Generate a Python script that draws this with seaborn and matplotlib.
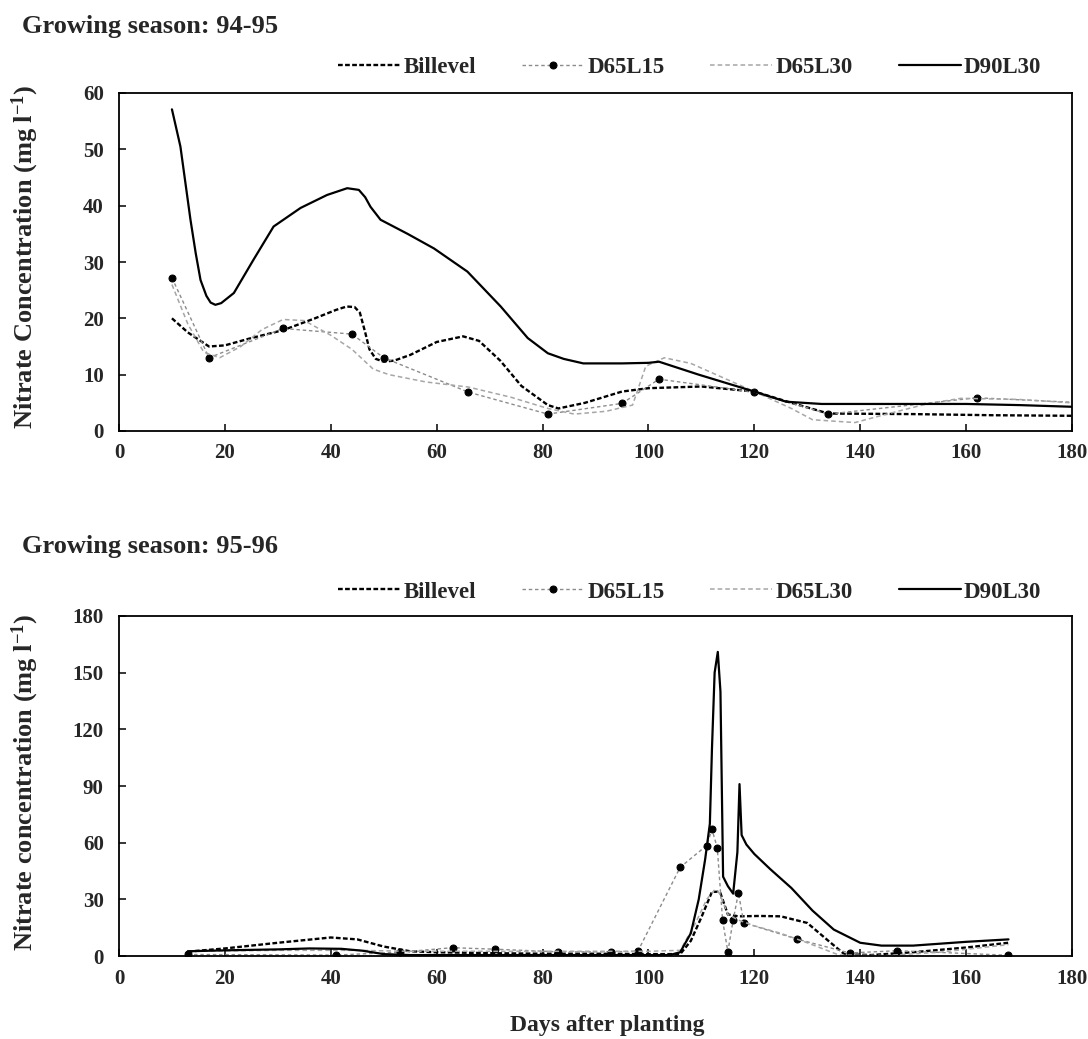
import numpy as np
import pandas as pd
import matplotlib
matplotlib.use("Agg")
import matplotlib.pyplot as plt
import seaborn as sns

# ---------------- Growing season 94-95 ----------------
s1_billevel_day = [10, 13, 17, 20, 25, 31, 37, 41, 43, 44.5, 45.5, 46.5, 47.3, 48.5, 50, 52, 55, 60, 65,
                   68, 72, 76, 81, 83, 88, 95, 100, 110, 120, 127, 134, 150, 165, 180]
s1_billevel_val = [20.0, 17.5, 15.0, 15.2, 16.5, 17.9, 20.0, 21.5, 22.1, 22.0, 21.0, 17.5, 14.5, 12.8,
                   12.3, 12.5, 13.5, 15.8, 16.8, 16.0, 12.5, 8.0, 4.6, 4.0, 5.0, 7.0, 7.6, 7.9, 7.0, 5.0,
                   3.1, 3.0, 2.8, 2.7]

s1_d65l15_day = [10, 17, 31, 44, 50, 66, 81, 95, 102, 120, 134, 162, 180]
s1_d65l15_val = [27.2, 13.0, 18.2, 17.2, 13.0, 6.9, 3.0, 4.9, 9.2, 6.9, 3.0, 5.9, 5.1]

s1_d65l30_day = [10, 13, 16, 19, 23, 27, 31, 35, 40, 44, 48, 51, 58, 66, 74, 81, 86, 92, 97, 99.5,
                 103, 108, 114, 120, 127, 131, 139, 145, 153, 159, 170, 180]
s1_d65l30_val = [26.0, 19.0, 14.0, 13.0, 15.0, 18.0, 19.8, 19.6, 17.0, 14.5, 11.0, 10.0, 8.7, 7.8, 6.0, 4.0,
                 3.0, 3.5, 4.6, 11.5, 13.0, 12.0, 9.5, 7.0, 4.0, 2.0, 1.5, 3.0, 4.9, 5.8, 5.6, 5.0]

s1_d90l30_day = [10, 11.6, 13.5, 14.5, 15.4, 16.5, 17.3, 18.2, 19.3, 21.7, 25.4, 29.2, 34.3, 39.3, 43.1,
                 45.3, 46.5, 47.5, 49.4, 54.5, 59.5, 65.8, 72.1, 77.2, 81, 84, 87.7, 95, 100, 102, 109.5,
                 120, 126, 132.7, 140, 160, 170, 180]
s1_d90l30_val = [57.1, 50.5, 37.5, 31.5, 26.8, 24.0, 22.8, 22.4, 22.7, 24.5, 30.4, 36.3, 39.6, 41.9, 43.1,
                 42.8, 41.5, 39.8, 37.5, 35.0, 32.4, 28.3, 22.1, 16.5, 13.8, 12.8, 12.0, 12.0, 12.1, 12.3,
                 10.0, 7.0, 5.2, 4.8, 4.8, 4.8, 4.6, 4.3]

# ---------------- Growing season 95-96 ----------------
s2_billevel_day = [13, 20, 30, 40, 45, 50, 55, 60, 70, 80, 90, 100, 106, 108, 110, 112, 113.5, 115, 117,
                   121, 125, 130, 134, 137, 142, 150, 160, 168]
s2_billevel_val = [2.3, 4.0, 7.0, 9.8, 8.8, 5.0, 2.5, 2.0, 1.5, 1.2, 1.2, 1.0, 1.0, 8.0, 20.5, 34.0, 34.0,
                   22.0, 21.0, 21.2, 21.0, 17.5, 8.0, 1.0, 0.5, 2.0, 4.5, 7.0]

s2_d65l15_day = [13, 41, 53, 63, 71, 83, 93, 98, 106, 111, 112, 113, 114, 115, 116, 117, 118, 128, 138,
                 147, 168]
s2_d65l15_val = [0.8, 0.5, 2.0, 4.4, 3.6, 2.2, 2.2, 2.5, 47.0, 58.5, 67.0, 57.3, 19.0, 2.3, 19.0, 33.5,
                 17.6, 9.0, 1.6, 2.8, 0.4]

s2_d65l30_day = [13, 30, 45, 55, 70, 85, 100, 106, 109, 111, 112.5, 113.5, 115, 117, 120, 125, 130, 136,
                 145, 155, 168]
s2_d65l30_val = [2.5, 3.0, 3.0, 2.5, 2.5, 2.5, 2.5, 3.0, 18.0, 30.0, 35.0, 33.0, 22.0, 19.0, 16.0, 12.0,
                 7.0, 0.5, 0.3, 2.0, 6.0]

s2_d90l30_day = [13, 20, 30, 36, 42, 46, 50, 55, 70, 90, 104, 106, 108, 109.5, 110.7, 111.6, 112.0, 112.5,
                 113.1, 113.6, 114.1, 115, 116, 116.8, 117.2, 117.6, 118.5, 120, 123, 127, 131, 135, 140,
                 144, 150, 160, 168]
s2_d90l30_val = [2.5, 3.0, 3.5, 4.0, 3.8, 2.8, 1.0, 0.5, 0.5, 0.5, 0.5, 2.0, 12.0, 30.0, 51.0, 70.0, 110.0,
                 150.0, 161.0, 140.0, 42.0, 37.0, 33.0, 55.0, 91.0, 64.0, 59.0, 54.0, 46.0, 36.0, 24.0,
                 14.0, 7.0, 5.5, 5.5, 7.5, 8.8]

series_names = ["Billevel", "D65L15", "D65L30", "D90L30"]
season_titles = ["Growing season: 94-95", "Growing season: 95-96"]
y_labels = ["Nitrate Concentration (mg l$^{-1}$)", "Nitrate concentration (mg l$^{-1}$)"]
x_label = "Days after planting"

sns.set_style("ticks")
plt.rcParams["font.family"] = ["Liberation Serif", "DejaVu Serif"]
plt.rcParams["font.weight"] = "bold"
plt.rcParams["mathtext.fontset"] = "custom"
plt.rcParams["mathtext.rm"] = "Liberation Serif:bold"
plt.rcParams["mathtext.bf"] = "Liberation Serif:bold"
plt.rcParams["mathtext.default"] = "rm"

styles = {
    "Billevel": dict(color="black", linewidth=1.7, linestyle=(0, (2.0, 1.0))),
    "D65L15": dict(color="#8c8c8c", linewidth=1.0, linestyle=(0, (2.5, 2.0)),
                   marker="o", markersize=5, markerfacecolor="black", markeredgecolor="black"),
    "D65L30": dict(color="#a6a6a6", linewidth=1.1, linestyle=(0, (3.0, 2.0))),
    "D90L30": dict(color="black", linewidth=1.6, linestyle="-"),
}


def frame(day, val):
    return pd.DataFrame({"day": day, "val": val})


fig = plt.figure(figsize=(10.88, 10.39), dpi=100)
W, H = 1088, 1039
ax1 = fig.add_axes([119 / W, 1 - 431 / H, (1072 - 119) / W, (431 - 93) / H])
ax2 = fig.add_axes([119 / W, 1 - 956 / H, (1072 - 119) / W, (956 - 616) / H])

panels = [
    (ax1, [(s1_billevel_day, s1_billevel_val), (s1_d65l15_day, s1_d65l15_val),
           (s1_d65l30_day, s1_d65l30_val), (s1_d90l30_day, s1_d90l30_val)], 60, 10),
    (ax2, [(s2_billevel_day, s2_billevel_val), (s2_d65l15_day, s2_d65l15_val),
           (s2_d65l30_day, s2_d65l30_val), (s2_d90l30_day, s2_d90l30_val)], 180, 30),
]

legend_y = [1 - 67 / H, 1 - 592 / H]
title_y = [1 - 27 / H, 1 - 547 / H]
ylabel_y = [1 - 257 / H, 1 - 782 / H]

for i, (ax, data, ymax, ystep) in enumerate(panels):
    handles = []
    for name, (d, v) in zip(series_names, data):
        kw = dict(styles[name])
        if i == 0 and name == "D65L15":
            kw["markevery"] = list(range(len(d) - 1))
        sns.lineplot(data=frame(d, v), x="day", y="val", ax=ax, errorbar=None,
                     legend=False, label=name, **kw)
        handles.append(ax.get_lines()[-1])
    ax.set_xlim(0, 180)
    ax.set_ylim(0, ymax)
    ax.set_xticks(np.arange(0, 181, 20))
    ax.set_yticks(np.arange(0, ymax + 1, ystep))
    ax.set_xlabel("")
    ax.set_ylabel("")
    for sp in ax.spines.values():
        sp.set_visible(True)
        sp.set_linewidth(1.3)
        sp.set_color("black")
    ax.tick_params(direction="in", length=5, width=1.1, color="black", labelsize=15)
    ax.tick_params(axis="x", pad=9)
    ax.tick_params(axis="y", pad=11)
    for lab in ax.get_xticklabels() + ax.get_yticklabels():
        lab.set_fontweight("bold")

    ax.legend(handles=handles, labels=series_names, loc="center",
              bbox_to_anchor=(0.634, legend_y[i]), bbox_transform=fig.transFigure,
              ncol=4, frameon=False, handlelength=2.7, handletextpad=0.15,
              columnspacing=2.0, numpoints=1, prop={"weight": "bold", "size": 16.5})

    fig.text(22 / W, title_y[i], season_titles[i], fontsize=19, fontweight="bold",
             ha="left", va="center")
    fig.text(25 / W, ylabel_y[i], y_labels[i], fontsize=19, fontweight="bold",
             rotation=90, ha="center", va="center")

fig.text(607 / W, 1 - 1025 / H, x_label, fontsize=17, fontweight="bold", ha="center", va="center")

fig.savefig("out.png", dpi=100, facecolor="white")
